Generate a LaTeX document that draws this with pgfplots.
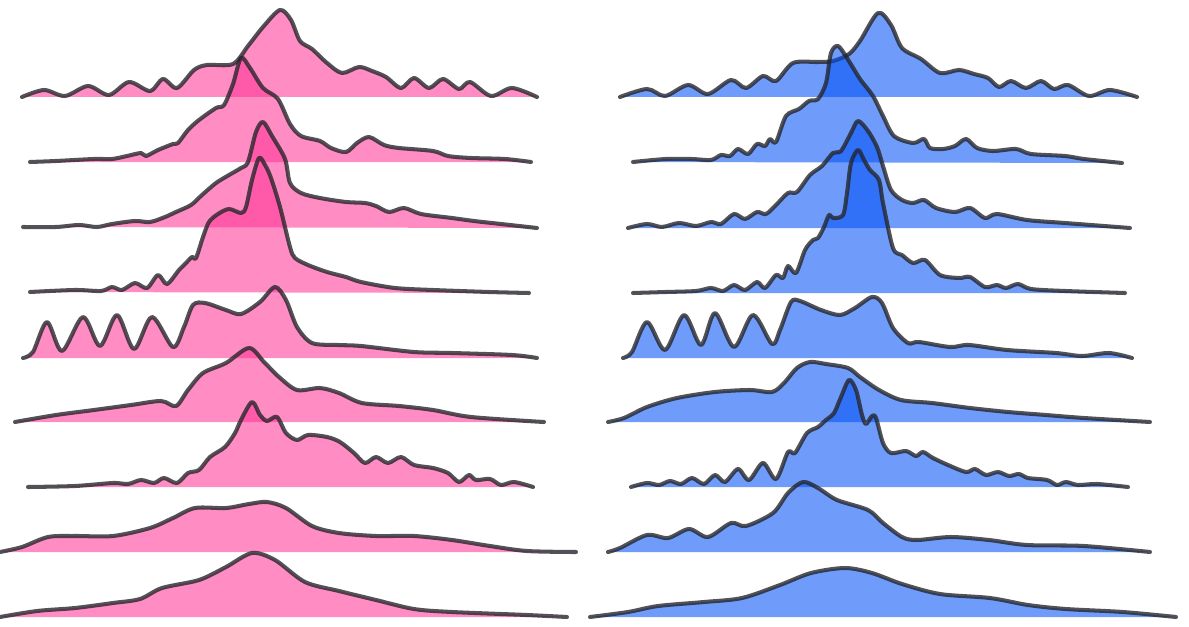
\documentclass[border=0pt]{standalone}
\usepackage{pgfplots}
\usepackage{pgfplotstable}
\pgfplotsset{compat=1.18}
\definecolor{pk}{RGB}{255,52,149}
\definecolor{bl}{RGB}{0,80,246}
\definecolor{ln}{RGB}{35,35,40}

% pixel coordinates (x to the right, y downwards)
\pgfplotstableread{
x y
22 97
44 90
65 96
88 86
109 95
129 82
150 91
163 79
177 88
194 70
207 65
233 64
248 46
263 27
280 10
291 20
300 41
312 49
327 63
342 73
359 67
372 71
386 77
401 88
414 78
429 88
443 79
459 89
470 82
491 96
512 88
537 97
}\Lone
\pgfplotstableread{
x y
30 162
56 161
94 159
112 159
127 156
141 153
146 156
158 150
173 144
178 143
188 130
199 120
216 108
224 105
233 84
241 58
250 68
263 88
278 99
290 124
301 136
320 141
331 148
346 152
357 143
369 137
384 145
399 148
433 151
448 156
471 158
505 159
531 162
}\Ltwo
\pgfplotstableread{
x y
23 227
56 227
79 225
97 227
112 224
135 221
150 222
165 217
176 212
191 205
202 195
216 183
229 175
241 168
248 162
256 132
263 122
272 136
285 159
290 183
301 193
320 198
346 202
365 203
376 206
389 212
404 208
421 214
452 218
474 221
501 224
537 228
}\Lthree
\pgfplotstableread{
x y
30 292
75 290
101 291
112 287
122 290
135 283
147 288
158 275
167 284
179 270
186 263
192 257
196 258
203 237
209 222
218 214
229 209
241 213
246 207
252 180
259 158
265 165
271 178
280 207
290 247
295 258
308 265
327 272
346 277
361 282
395 288
433 290
489 292
529 293
}\Lfour
\pgfplotstableread{
x y
23 358
33 352
47 322
62 351
83 317
100 346
117 315
134 349
152 317
173 347
184 327
193 305
205 303
226 310
241 314
260 302
275 287
286 300
297 327
312 343
338 345
361 346
414 352
452 353
512 355
537 358
}\Lfive
\pgfplotstableread{
x y
15 422
56 415
94 410
131 405
161 401
176 406
188 390
203 373
226 363
249 348
264 362
279 377
297 390
320 388
339 393
362 403
399 406
433 410
471 417
544 422
}\Lsix
\pgfplotstableread{
x y
28 487
75 486
113 483
128 484
141 480
154 483
164 478
177 483
188 473
199 470
210 457
225 447
235 433
241 420
252 402
260 415
267 421
277 417
286 433
297 440
308 435
327 437
340 442
354 453
365 463
376 457
388 463
401 457
414 465
433 468
448 473
459 482
469 475
476 480
490 479
501 485
514 482
533 487
}\Lseven
\pgfplotstableread{
x y
0 552
22 547
48 537
75 536
113 536
150 528
173 518
195 508
226 508
249 504
267 502
286 508
312 526
339 533
376 536
414 536
452 540
490 546
527 551
576 552
}\Leight
\pgfplotstableread{
x y
0 617
37 611
75 608
113 603
140 599
162 588
199 580
226 567
252 553
275 560
305 582
339 591
376 600
414 609
452 612
527 615
567 617
}\Lnine
\pgfplotstableread{
x y
620 97
647 89
665 96
688 85
708 94
731 80
746 88
763 76
776 81
793 63
818 62
833 61
849 54
860 41
878 13
891 25
902 48
921 59
940 73
959 70
974 74
988 78
999 87
1011 81
1026 88
1041 81
1054 89
1068 85
1089 96
1110 90
1137 97
}\Rone
\pgfplotstableread{
x y
633 162
666 159
692 159
711 160
721 155
730 156
738 149
748 154
757 144
765 146
770 139
776 142
786 116
799 109
809 101
818 99
826 83
831 53
838 46
847 58
860 79
873 96
883 116
894 136
913 143
924 139
930 148
943 149
955 146
966 139
977 148
993 151
1016 149
1031 154
1065 156
1084 159
1122 163
}\Rtwo
\pgfplotstableread{
x y
628 228
647 224
662 227
679 223
696 226
711 222
721 224
734 214
745 219
757 212
766 214
776 205
788 193
797 192
810 175
822 166
833 153
841 151
851 133
858 121
868 131
877 147
883 166
891 190
902 200
913 203
924 200
936 208
955 212
970 208
985 218
997 214
1027 220
1065 223
1130 228
}\Rthree
\pgfplotstableread{
x y
633 293
666 292
696 291
711 288
723 291
734 285
745 290
757 282
765 288
776 275
783 278
788 266
796 273
805 250
813 240
818 238
824 227
829 215
833 218
843 215
847 193
851 163
858 150
864 160
870 170
879 180
883 203
893 248
902 255
913 263
925 260
940 275
959 278
970 277
985 287
997 285
1006 288
1018 284
1031 289
1065 291
1125 293
}\Rfour
\pgfplotstableread{
x y
623 358
632 352
647 322
665 350
684 315
701 345
715 313
734 347
753 315
772 344
780 330
791 302
800 301
821 310
840 315
855 308
872 297
882 303
893 328
908 343
919 342
950 347
969 345
1007 350
1056 353
1082 356
1109 353
1132 358
}\Rfive
\pgfplotstableread{
x y
608 422
624 418
647 407
677 398
715 392
750 390
772 392
784 383
797 368
810 362
826 364
848 368
860 377
879 390
901 400
932 403
970 408
1008 412
1046 415
1084 418
1150 422
}\Rsix
\pgfplotstableread{
x y
631 487
647 483
659 485
670 481
681 484
692 478
704 484
715 475
725 482
738 469
749 480
763 463
776 479
788 452
795 453
807 433
818 427
826 420
834 413
841 397
849 380
856 390
862 415
866 424
872 416
876 418
883 443
891 453
906 451
916 456
923 452
933 458
948 465
966 472
975 469
986 475
998 472
1009 476
1019 474
1028 478
1047 480
1057 485
1066 482
1078 485
1097 484
1128 487
}\Rseven
\pgfplotstableread{
x y
608 552
620 548
647 535
668 538
689 529
708 537
731 523
746 526
773 513
788 493
803 482
818 488
837 500
868 510
883 523
902 537
917 540
951 537
989 540
1027 545
1084 546
1150 552
}\Reight
\pgfplotstableread{
x y
590 617
628 612
658 606
704 602
742 598
780 585
811 573
845 568
872 573
902 584
940 594
990 598
1028 605
1066 609
1123 612
1176 617
}\Rnine

\pgfplotsset{
  ridgefill/.style={draw=none, fill=#1, fill opacity=0.565, smooth, tension=0.5, forget plot},
  ridgeline/.style={draw=ln, draw opacity=0.78, line width=1.15pt, smooth, tension=0.5, line join=round, line cap=round, forget plot},
}

\begin{document}
\begin{tikzpicture}
\begin{axis}[
  width=11.89cm, height=6.26cm, scale only axis,
  xmin=0, xmax=1189, ymin=0, ymax=626, y dir=reverse,
  axis line style={draw=none}, ticks=none,
  clip=true,
]
\addplot[ridgefill=pk] table {\Lone} -- cycle;
\addplot[ridgeline] table {\Lone};
\addplot[ridgefill=pk] table {\Ltwo} -- cycle;
\addplot[ridgeline] table {\Ltwo};
\addplot[ridgefill=pk] table {\Lthree} -- cycle;
\addplot[ridgeline] table {\Lthree};
\addplot[ridgefill=pk] table {\Lfour} -- cycle;
\addplot[ridgeline] table {\Lfour};
\addplot[ridgefill=pk] table {\Lfive} -- cycle;
\addplot[ridgeline] table {\Lfive};
\addplot[ridgefill=pk] table {\Lsix} -- cycle;
\addplot[ridgeline] table {\Lsix};
\addplot[ridgefill=pk] table {\Lseven} -- cycle;
\addplot[ridgeline] table {\Lseven};
\addplot[ridgefill=pk] table {\Leight} -- cycle;
\addplot[ridgeline] table {\Leight};
\addplot[ridgefill=pk] table {\Lnine} -- cycle;
\addplot[ridgeline] table {\Lnine};

\addplot[ridgefill=bl] table {\Rone} -- cycle;
\addplot[ridgeline] table {\Rone};
\addplot[ridgefill=bl] table {\Rtwo} -- cycle;
\addplot[ridgeline] table {\Rtwo};
\addplot[ridgefill=bl] table {\Rthree} -- cycle;
\addplot[ridgeline] table {\Rthree};
\addplot[ridgefill=bl] table {\Rfour} -- cycle;
\addplot[ridgeline] table {\Rfour};
\addplot[ridgefill=bl] table {\Rfive} -- cycle;
\addplot[ridgeline] table {\Rfive};
\addplot[ridgefill=bl] table {\Rsix} -- cycle;
\addplot[ridgeline] table {\Rsix};
\addplot[ridgefill=bl] table {\Rseven} -- cycle;
\addplot[ridgeline] table {\Rseven};
\addplot[ridgefill=bl] table {\Reight} -- cycle;
\addplot[ridgeline] table {\Reight};
\addplot[ridgefill=bl] table {\Rnine} -- cycle;
\addplot[ridgeline] table {\Rnine};
\end{axis}
\end{tikzpicture}
\end{document}
